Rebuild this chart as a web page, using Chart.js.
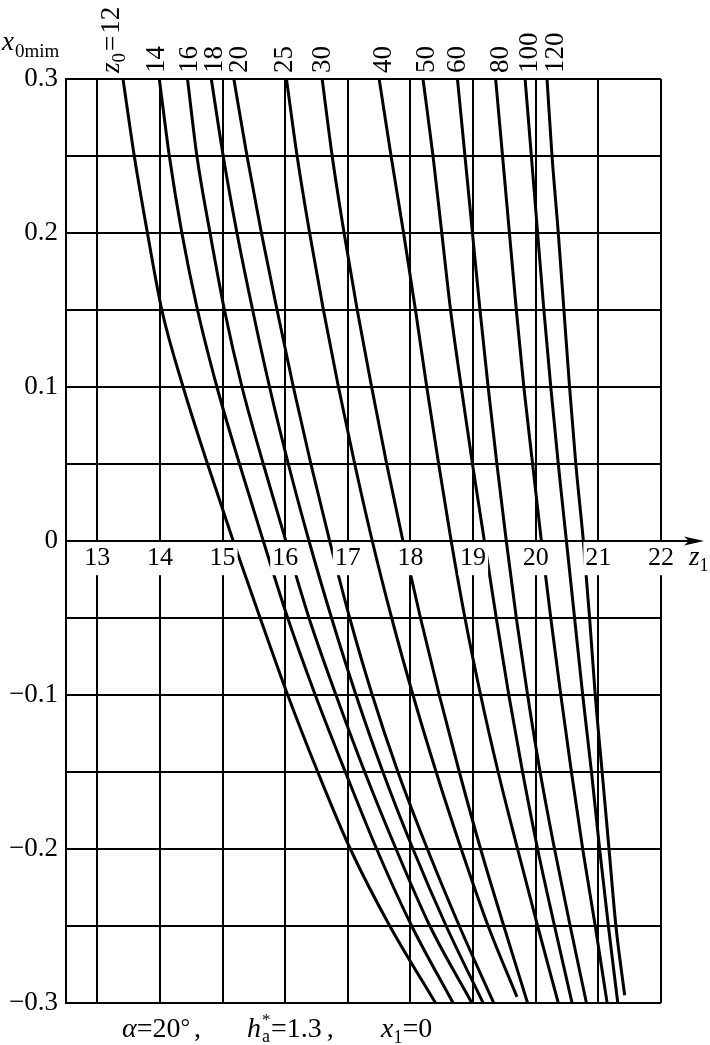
<!DOCTYPE html>
<html><head><meta charset="utf-8">
<script src="https://cdn.jsdelivr.net/npm/chart.js@4/dist/chart.umd.min.js"></script>
<style>html,body{margin:0;padding:0;background:#fff;}#wrap{width:710px;height:1045px;}</style>
</head><body><div id="wrap"><canvas id="c" width="710" height="1045"></canvas></div>
<script>
// ---- data ----
const yLevels = [0.3, 0.25, 0.2, 0.15, 0.1, 0.05, 0, -0.05, -0.1, -0.15, -0.2, -0.25, -0.3];
const z0Names = ['12', '14', '16', '18', '20', '25', '30', '40', '50', '60', '80', '100', '120'];
const curveZ12  = [13.41, 13.59, 13.80, 14.03, 14.37, 14.76, 15.17, 15.60, 16.04, 16.52, 17.04, 17.67, 18.40];
const curveZ14  = [13.99, 14.15, 14.35, 14.60, 14.91, 15.27, 15.65, 16.04, 16.48, 16.96, 17.46, 18.02, 18.68];
const curveZ16  = [14.44, 14.59, 14.80, 15.03, 15.31, 15.65, 16.01, 16.38, 16.81, 17.27, 17.77, 18.31, 18.98];
const curveZ18  = [14.82, 15.01, 15.23, 15.48, 15.75, 16.05, 16.38, 16.74, 17.13, 17.56, 18.04, 18.57, 19.16];
const curveZ20  = [15.18, 15.39, 15.62, 15.87, 16.13, 16.41, 16.71, 17.03, 17.39, 17.80, 18.27, 18.78, 19.33];
const curveZ25  = [16.02, 16.19, 16.39, 16.61, 16.85, 17.11, 17.39, 17.70, 18.04, 18.41, 18.81, 19.24, 19.70];
const curveZ30  = [16.59, 16.75, 16.94, 17.15, 17.38, 17.62, 17.88, 18.16, 18.46, 18.78, 19.12, 19.49, 19.87];
const curveZ40  = [17.50, 17.69, 17.89, 18.08, 18.26, 18.45, 18.65, 18.87, 19.12, 19.40, 19.71, 20.03, 20.36];
const curveZ50  = [18.20, 18.36, 18.50, 18.64, 18.81, 18.99, 19.18, 19.37, 19.57, 19.79, 20.03, 20.30, 20.58];
const curveZ60  = [18.75, 18.87, 18.99, 19.11, 19.24, 19.38, 19.53, 19.69, 19.87, 20.07, 20.30, 20.55, 20.81];
const curveZ80  = [19.36, 19.47, 19.58, 19.69, 19.81, 19.95, 20.09, 20.24, 20.40, 20.57, 20.75, 20.95, 21.14];
const curveZ100 = [19.83, 19.93, 20.03, 20.13, 20.24, 20.36, 20.49, 20.62, 20.75, 20.89, 21.02, 21.16, 21.31];
const curveZ120 = [20.18, 20.26, 20.36, 20.45, 20.54, 20.64, 20.76, 20.86, 20.95, 21.06, 21.17, 21.28, 21.42];
const curveEndLevel = [-0.3, -0.3, -0.3, -0.3, -0.3, -0.296, -0.3, -0.3, -0.3, -0.3, -0.3, -0.3, -0.295];
const xTickValues = [13, 14, 15, 16, 17, 18, 19, 20, 21, 22];
const yTickLabelValues = [0.3, 0.2, 0.1, 0, -0.1, -0.2, -0.3];

// ---- layout helpers (not data) ----
const allCurves = [curveZ12, curveZ14, curveZ16, curveZ18, curveZ20, curveZ25, curveZ30, curveZ40, curveZ50, curveZ60, curveZ80, curveZ100, curveZ120];
const labelNudge = [-13, -4, 0, 2, 4, -3, -1, 3, 2, -1, 3, 3, 7];
const SERIF = "'Liberation Serif', 'Times New Roman', serif";

const datasets = allCurves.map((zs, k) => ({
  label: 'z0=' + z0Names[k],
  data: zs.map((z, i) => ({x: z, y: i === zs.length - 1 ? curveEndLevel[k] : yLevels[i]})),
  borderColor: '#000',
  borderWidth: 3,
  pointRadius: 0,
  fill: false,
  cubicInterpolationMode: 'monotone'
}));

function runs(ctx, x, y, parts) {
  let cx = x;
  for (const p of parts) {
    ctx.font = (p.italic ? 'italic ' : '') + p.size + 'px ' + SERIF;
    ctx.fillText(p.t, cx + (p.pre || 0), y + (p.dy || 0));
    if (!p.noAdvance) cx += (p.pre || 0) + ctx.measureText(p.t).width + (p.gap || 0);
  }
  return cx;
}

const annotate = {
  id: 'annotate',
  afterDraw(chart) {
    const ctx = chart.ctx;
    const xs = chart.scales.x, ys = chart.scales.y;
    ctx.save();
    ctx.fillStyle = '#000';
    ctx.strokeStyle = '#000';
    ctx.textAlign = 'left';
    ctx.textBaseline = 'alphabetic';
    // top curve labels (rotated)
    allCurves.forEach((zs, k) => {
      const px = xs.getPixelForValue(zs[0]) + labelNudge[k];
      ctx.save();
      ctx.translate(px + 9, 73);
      ctx.rotate(-Math.PI / 2);
      if (k === 0) {
        runs(ctx, 0, 0, [
          {t: 'z', italic: true, size: 27},
          {t: '0', size: 19, dy: 6, gap: 2},
          {t: '=', size: 27, gap: 2},
          {t: '12', size: 27}
        ]);
      } else {
        runs(ctx, 0, 0, [{t: z0Names[k], size: 27}]);
      }
      ctx.restore();
    });
    // y axis title
    runs(ctx, 2, 50, [
      {t: 'x', italic: true, size: 27, gap: 1},
      {t: '0mim', size: 19, dy: 7}
    ]);
    // x axis arrow
    const y0 = ys.getPixelForValue(0);
    ctx.lineWidth = 2;
    ctx.beginPath();
    ctx.moveTo(xs.right, y0);
    ctx.lineTo(690, y0);
    ctx.stroke();
    ctx.beginPath();
    ctx.moveTo(704, y0);
    ctx.lineTo(684, y0 - 4.5);
    ctx.lineTo(689, y0);
    ctx.lineTo(684, y0 + 4.5);
    ctx.closePath();
    ctx.fill();
    runs(ctx, 689, y0 + 24, [
      {t: 'z', italic: true, size: 27},
      {t: '1', size: 18, dy: 6}
    ]);
    // caption
    const cy = 1037;
    runs(ctx, 122, cy, [
      {t: '\u03b1', italic: true, size: 28},
      {t: '=20', size: 28},
      {t: '\u00b0', size: 24, dy: -2},
      {t: ',', size: 28, pre: 4}
    ]);
    let hx = runs(ctx, 247, cy, [{t: 'h', italic: true, size: 28, gap: 1}]);
    runs(ctx, hx, cy, [{t: '*', size: 17, dy: -12, noAdvance: true}]);
    hx = runs(ctx, hx, cy, [{t: 'a', size: 18, dy: 5}]);
    runs(ctx, hx + 1, cy, [{t: '=1.3', size: 28}, {t: ',', size: 28, pre: 5}]);
    runs(ctx, 381, cy, [
      {t: 'x', italic: true, size: 28},
      {t: '1', size: 18, dy: 6},
      {t: '=0', size: 28}
    ]);
    ctx.restore();
  }
};

new Chart(document.getElementById('c'), {
  type: 'line',
  data: {datasets},
  options: {
    responsive: false,
    animation: false,
    devicePixelRatio: 1,
    layout: {padding: {left: 0, right: 49, top: 79, bottom: 42}},
    plugins: {legend: {display: false}, tooltip: {enabled: false}},
    scales: {
      x: {
        type: 'linear',
        position: {y: 0},
        min: 12.5,
        max: 22,
        afterBuildTicks: s => { s.ticks = [{value: 12.5}].concat(xTickValues.map(v => ({value: v}))); },
        ticks: {
          autoSkip: false, maxRotation: 0,
          callback: v => (xTickValues.includes(v) ? String(v) : null),
          font: {family: SERIF, size: 26},
          color: '#000',
          padding: 2,
          z: 1,
          showLabelBackdrop: true,
          backdropColor: '#fff',
          backdropPadding: {x: 2, y: 1}
        },
        grid: {color: '#000', lineWidth: 2, drawTicks: false},
        border: {color: '#000', width: 2}
      },
      y: {
        type: 'linear',
        position: 'left',
        min: -0.3,
        max: 0.3,
        afterBuildTicks: s => {
          const t = [];
          for (let i = -6; i <= 6; i++) t.push({value: Math.round(i * 5) / 100});
          s.ticks = t;
        },
        afterFit: s => { s.width = 66; },
        ticks: {
          autoSkip: false,
          callback: v => {
            const r = Math.round(v * 100) / 100;
            if (!yTickLabelValues.some(q => Math.abs(q - r) < 1e-9)) return '';
            if (r === 0) return '0';
            return (r < 0 ? '\u2212' : '') + Math.abs(r).toFixed(1);
          },
          font: {family: SERIF, size: 27},
          color: '#000',
          padding: 8
        },
        grid: {color: '#000', lineWidth: 2, drawTicks: false},
        border: {color: '#000', width: 2}
      }
    }
  },
  plugins: [annotate]
});
</script>
</body></html>
